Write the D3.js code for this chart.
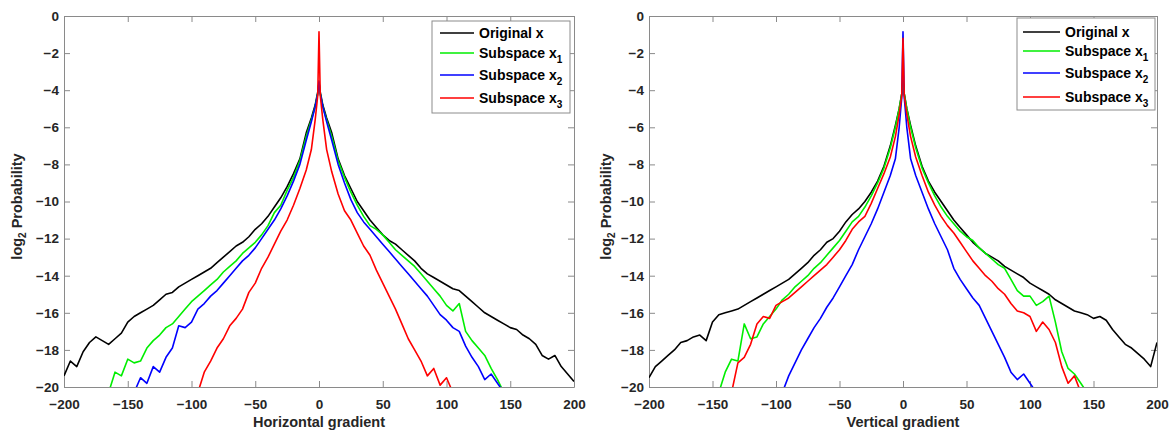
<!DOCTYPE html>
<html>
<head>
<meta charset="utf-8">
<script src="https://cdn.jsdelivr.net/npm/d3@7"></script>
<style>
  body { margin: 0; background: #fff; }
  text { font-family: "Liberation Sans", Arial, sans-serif; font-weight: bold; }
</style>
</head>
<body>
<div id="chart"></div>
<script>
// gradient value (x) grid shared by all curves
var gradX = [-200,-195,-190,-185,-180,-175,-170,-165,-160,-155,-150,-145,-140,-135,-130,-125,-120,-115,-110,-105,
  -100,-95,-90,-85,-80,-75,-70,-65,-60,-55,-50,-45,-40,-35,-30,-25,-20,-15,-10,
  -6,-3,-1,0,1,3,6,
  10,15,20,25,30,35,40,45,50,55,60,65,70,75,80,85,90,95,100,105,110,115,120,125,130,135,140,145,150,155,160,165,170,175,180,185,190,195,200];

// horizontal gradient, log2 probability
var hOrig = [-19.4,-18.6,-18.9,-18.1,-17.6,-17.3,-17.5,-17.7,-17.4,-17.1,-16.5,-16.2,-16.0,-15.8,-15.6,-15.3,-15.0,-14.9,-14.6,-14.4,
  -14.2,-14.0,-13.8,-13.6,-13.3,-13.0,-12.7,-12.4,-12.2,-11.9,-11.5,-11.2,-10.8,-10.3,-9.8,-9.2,-8.5,-7.7,-6.3,
  -5.5,-4.8,-4.1,-3.6,-4.1,-4.8,-5.5,
  -6.3,-7.7,-8.6,-9.3,-10.0,-10.5,-11.0,-11.4,-11.8,-12.1,-12.3,-12.6,-12.9,-13.2,-13.6,-13.9,-14.1,-14.3,-14.5,-14.7,
  -14.8,-15.1,-15.4,-15.7,-16.0,-16.2,-16.4,-16.6,-16.8,-16.9,-17.2,-17.4,-17.7,-18.3,-18.5,-18.3,-18.9,-19.3,-19.7];
var hSub1 = [null,null,null,null,null,null,null,-20.3,-19.2,-19.4,-18.5,-18.7,-18.6,-17.9,-17.5,-17.2,-16.8,-16.6,-16.2,-15.8,
  -15.4,-15.1,-14.8,-14.5,-14.2,-13.8,-13.5,-13.2,-12.8,-12.5,-12.2,-11.8,-11.3,-10.6,-10.2,-9.4,-8.7,-7.8,-6.5,
  -5.6,-4.9,-4.2,-3.6,-4.2,-4.9,-5.6,
  -6.5,-7.8,-8.7,-9.5,-10.2,-10.8,-11.3,-11.5,-11.8,-12.2,-12.6,-12.9,-13.2,-13.5,-13.9,-14.3,-14.7,-15.1,-15.6,-15.9,
  -15.5,-17.0,-17.5,-17.9,-18.3,-19.0,-19.6,-20.3,null,null,null,null,null,null,null,null,null,null,null];
var hSub2 = [null,null,null,null,null,null,null,null,null,null,null,-20.3,-19.5,-19.8,-18.9,-19.2,-18.4,-17.9,-16.7,-16.8,
  -16.5,-15.8,-15.5,-15.1,-14.8,-14.4,-14.0,-13.6,-13.2,-12.9,-12.5,-12.0,-11.5,-11.0,-10.4,-9.7,-8.9,-8.0,-6.7,
  -5.7,-4.9,-4.2,-3.5,-4.2,-4.9,-5.7,
  -6.7,-8.0,-9.0,-9.9,-10.6,-11.1,-11.5,-11.9,-12.3,-12.7,-13.1,-13.5,-13.9,-14.3,-14.7,-15.1,-15.6,-16.1,-16.4,-16.8,
  -17.0,-17.8,-18.4,-18.9,-19.6,-19.3,-19.8,-20.3,null,null,null,null,null,null,null,null,null,null,null];
var hSub3 = [null,null,null,null,null,null,null,null,null,null,null,null,null,null,null,null,null,null,null,null,
  null,-20.3,-19.2,-18.6,-17.9,-17.4,-16.7,-16.3,-15.8,-14.9,-14.4,-13.6,-13.0,-12.3,-11.6,-11.0,-10.2,-9.3,-8.3,
  -7.2,-5.6,-4.3,-0.85,-4.3,-5.6,-7.2,
  -8.4,-9.6,-10.5,-11.0,-11.7,-12.4,-12.9,-13.7,-14.4,-15.1,-15.8,-16.6,-17.4,-18.0,-18.6,-19.4,-19.0,-19.9,-19.5,-20.3,
  null,null,null,null,null,null,null,null,null,null,null,null,null,null,null,null,null,null,null];

// vertical gradient, log2 probability
var vOrig = [-19.5,-18.9,-18.6,-18.3,-18.0,-17.6,-17.5,-17.3,-17.2,-17.5,-16.5,-16.1,-16.0,-15.9,-15.8,-15.6,-15.4,-15.2,-15.0,-14.8,
  -14.6,-14.4,-14.2,-13.9,-13.6,-13.3,-12.9,-12.6,-12.2,-12.0,-11.6,-11.1,-10.7,-10.4,-10.0,-9.5,-8.9,-8.1,-7.0,
  -5.9,-5.0,-4.2,-3.5,-4.2,-5.0,-5.9,
  -7.0,-8.1,-8.9,-9.5,-10.0,-10.5,-11.0,-11.4,-11.8,-12.2,-12.5,-12.8,-13.0,-13.2,-13.5,-13.7,-13.9,-14.1,-14.4,-14.6,
  -14.8,-15.0,-15.3,-15.5,-15.7,-15.9,-16.0,-16.1,-16.3,-16.2,-16.4,-16.9,-17.3,-17.7,-17.9,-18.2,-18.5,-18.9,-17.6];
var vSub1 = [null,null,null,null,null,null,null,null,null,null,null,-20.3,-19.2,-18.5,-18.6,-16.6,-17.4,-17.3,-16.6,-16.2,
  -15.8,-15.3,-15.0,-14.6,-14.3,-14.0,-13.6,-13.3,-12.9,-12.5,-12.1,-11.6,-11.1,-10.8,-10.3,-9.7,-9.0,-8.2,-7.1,
  -6.0,-5.0,-4.2,-3.5,-4.2,-5.0,-6.0,
  -7.1,-8.2,-9.0,-9.7,-10.3,-10.8,-11.2,-11.6,-11.9,-12.1,-12.5,-12.8,-13.1,-13.4,-13.6,-14.2,-14.8,-15.1,-15.1,-15.6,
  -15.4,-15.1,-16.5,-18.1,-19.0,-19.3,-19.8,-20.3,null,null,null,null,null,null,null,null,null,null,null];
var vSub2 = [null,null,null,null,null,null,null,null,null,null,null,null,null,null,null,null,null,null,null,null,
  null,-20.3,-19.4,-18.7,-18.0,-17.4,-16.8,-16.3,-15.7,-15.2,-14.6,-14.0,-13.4,-12.6,-11.9,-11.2,-10.4,-9.5,-8.6,
  -7.7,-6.0,-4.4,-0.85,-4.4,-6.0,-7.7,
  -8.6,-9.5,-10.4,-11.2,-11.9,-12.6,-13.6,-14.2,-14.7,-15.2,-15.6,-16.3,-17.0,-17.7,-18.4,-19.2,-19.6,-19.3,-19.8,-20.3,
  null,null,null,null,null,null,null,null,null,null,null,null,null,null,null,null,null,null,null];
var vSub3 = [null,null,null,null,null,null,null,null,null,null,null,null,null,-20.3,-18.7,-18.4,-17.7,-16.6,-16.2,-16.3,
  -15.6,-15.4,-15.2,-14.9,-14.6,-14.3,-14.0,-13.7,-13.4,-13.0,-12.6,-12.1,-11.5,-11.1,-10.8,-10.1,-9.3,-8.5,-7.6,
  -6.5,-5.3,-4.3,-1.2,-4.3,-5.3,-6.5,
  -7.6,-8.6,-9.5,-10.2,-10.8,-11.3,-11.7,-12.2,-12.7,-13.2,-13.6,-14.0,-14.3,-14.7,-15.0,-15.5,-15.9,-16.0,-16.2,-17.0,
  -16.5,-16.9,-17.6,-18.9,-19.8,-19.4,-20.3,null,null,null,null,null,null,null,null,null,null,null,null];

var legendNames = ["Original x", "Subspace x", "Subspace x", "Subspace x"];
var legendSubs = ["", "1", "2", "3"];
var colors = ["#000000", "#00ee00", "#0000ff", "#ff0000"];
var xTicks = [-200,-150,-100,-50,0,50,100,150,200];
var yTicks = [0,-2,-4,-6,-8,-10,-12,-14,-16,-18,-20];

var svg = d3.select("#chart").append("svg")
  .attr("width", 1173)
  .attr("height", 432);

var axisGray = "#8a8a8a";
var labelColor = "#262626";

function drawPanel(p, idx) {
  var x = d3.scaleLinear().domain([-200, 200]).range([p.left, p.right]);
  var y = d3.scaleLinear().domain([-20, 0]).range([p.bottom, p.top]);

  var clipId = "clip" + idx;
  svg.append("clipPath").attr("id", clipId)
    .append("rect")
    .attr("x", p.left).attr("y", p.top)
    .attr("width", p.right - p.left).attr("height", p.bottom - p.top);

  // axes, ticks pointing inward (box on)
  var gx = svg.append("g")
    .attr("transform", "translate(0," + p.bottom + ")")
    .call(d3.axisBottom(x).tickValues(xTicks).tickSizeInner(-6).tickSizeOuter(0).tickPadding(12));
  var gxTop = svg.append("g")
    .attr("transform", "translate(0," + p.top + ")")
    .call(d3.axisTop(x).tickValues(xTicks).tickSizeInner(-6).tickSizeOuter(0).tickFormat(""));
  var gy = svg.append("g")
    .attr("transform", "translate(" + p.left + ",0)")
    .call(d3.axisLeft(y).tickValues(yTicks).tickSizeInner(-6).tickSizeOuter(0).tickPadding(5));
  var gyRight = svg.append("g")
    .attr("transform", "translate(" + p.right + ",0)")
    .call(d3.axisRight(y).tickValues(yTicks).tickSizeInner(-6).tickSizeOuter(0).tickFormat(""));

  [gx, gxTop, gy, gyRight].forEach(function(g) {
    g.selectAll("path.domain").attr("stroke", axisGray).attr("stroke-width", 1);
    g.selectAll(".tick line").attr("stroke", axisGray);
    g.selectAll(".tick text")
      .attr("fill", labelColor)
      .style("font-size", "13.5px");
  });

  // curves
  var line = d3.line()
    .defined(function(d) { return d[1] !== null; })
    .x(function(d) { return x(d[0]); })
    .y(function(d) { return y(d[1]); });

  var plot = svg.append("g").attr("clip-path", "url(#" + clipId + ")");
  p.series.forEach(function(vals, i) {
    plot.append("path")
      .datum(gradX.map(function(g, k) { return [g, vals[k]]; }))
      .attr("fill", "none")
      .attr("stroke", colors[i])
      .attr("stroke-width", 1.6)
      .attr("stroke-linejoin", "round")
      .attr("d", line);
  });

  // axis labels
  svg.append("text")
    .attr("x", (p.left + p.right) / 2)
    .attr("y", 427)
    .attr("text-anchor", "middle")
    .attr("fill", labelColor)
    .style("font-size", "14.5px")
    .text(p.xLabel);

  var yl = svg.append("text")
    .attr("transform", "translate(" + p.yLabelX + "," + ((p.top + p.bottom) / 2 + 5) + ") rotate(-90)")
    .attr("text-anchor", "middle")
    .attr("fill", labelColor)
    .style("font-size", "14.5px");
  yl.append("tspan").text("log");
  yl.append("tspan").attr("dy", 4).style("font-size", "10px").text("2");
  yl.append("tspan").attr("dy", -4).text(" Probability");

  // legend
  var lg = p.legend;
  svg.append("rect")
    .attr("x", lg.x).attr("y", lg.y)
    .attr("width", lg.w).attr("height", lg.h)
    .attr("fill", "#fff")
    .attr("stroke", "#8c8c8c")
    .attr("stroke-width", 1);
  legendNames.forEach(function(name, i) {
    var ry = lg.rows[i];
    svg.append("line")
      .attr("x1", lg.lx1).attr("x2", lg.lx2)
      .attr("y1", ry).attr("y2", ry)
      .attr("stroke", colors[i])
      .attr("stroke-width", 1.6);
    var t = svg.append("text")
      .attr("x", lg.tx).attr("y", ry + 5)
      .attr("fill", "#000")
      .style("font-size", "14px");
    t.append("tspan").text(name);
    if (legendSubs[i]) {
      t.append("tspan").attr("dy", 5).style("font-size", "10px").text(legendSubs[i]);
    }
  });
}

drawPanel({
  left: 64, right: 574, top: 16, bottom: 387,
  xLabel: "Horizontal gradient", yLabelX: 22,
  series: [hOrig, hSub1, hSub2, hSub3],
  legend: { x: 432, y: 21, w: 138, h: 92, lx1: 440, lx2: 474, tx: 479, rows: [33, 53, 75, 98] }
}, 0);

drawPanel({
  left: 649, right: 1157, top: 16, bottom: 387,
  xLabel: "Vertical gradient", yLabelX: 611,
  series: [vOrig, vSub1, vSub2, vSub3],
  legend: { x: 1017, y: 18, w: 138, h: 92, lx1: 1023, lx2: 1060, tx: 1065, rows: [32, 51, 73, 97] }
}, 1);
</script>
</body>
</html>
